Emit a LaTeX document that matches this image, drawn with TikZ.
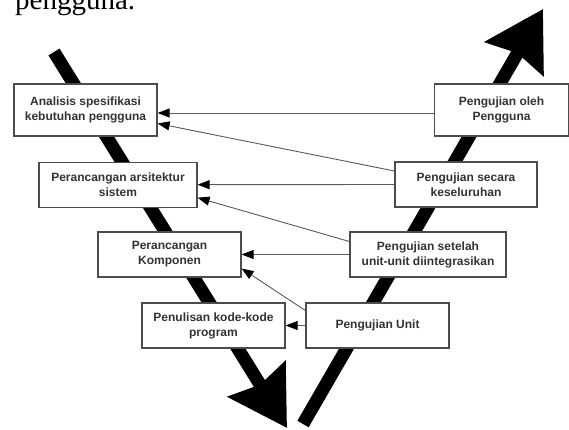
\documentclass[tikz,border=0pt]{standalone}
\usepackage{fontspec}
\setmainfont{Liberation Serif}
\newfontfamily\boxfont{Liberation Sans}
\usetikzlibrary{arrows.meta}

\begin{document}
\begin{tikzpicture}[x=1pt, y=-1pt,
        box/.style={draw=black!70, line width=1.2pt, fill=white, align=center, inner sep=0pt,
            text=black!80, font=\boxfont\bfseries\fontsize{12}{15}\selectfont},
        link/.style={draw=black!65, line width=0.9pt, -{Triangle[length=12pt, width=9pt, color=black]}},
        bigarrow/.style={line width=13pt, -{Stealth[length=57pt, width=66pt, inset=6pt]}}]
        \useasboundingbox (0,0) rectangle (569,430);
        \clip (0,0) rectangle (569,430);

        % end of the text above the picture
        \node[anchor=base west, inner sep=0pt, font=\fontsize{29}{34}\selectfont] (kalimat) at (15,9.5) {pengguna.};

        % the two big arrows of the V
        \coordinate (turunawal) at (54,52);
        \coordinate (turunujung) at (287,428);
        \coordinate (naikawal) at (303,424);
        \coordinate (naikujung) at (543,9);
        \draw[bigarrow] (turunawal) -- (turunujung);
        \draw[bigarrow] (naikawal) -- (naikujung);

        % left side
        \node[box, minimum width=143pt, minimum height=52pt] (analisis) at (85.5,110) {Analisis spesifikasi\\kebutuhan pengguna};
        \node[box, minimum width=158pt, minimum height=45pt] (arsitektur) at (118,184.7) {Perancangan arsitektur\\sistem};
        \node[box, minimum width=143pt, minimum height=45pt] (komponen) at (169.5,254.5) {Perancangan\\Komponen};
        \node[box, minimum width=143pt, minimum height=45pt] (kode) at (213.5,325.5) {Penulisan kode-kode\\program};

        % right side
        \node[box, minimum width=134pt, minimum height=52pt] (ujipengguna) at (501.5,110) {Pengujian oleh\\Pengguna};
        \node[box, minimum width=142pt, minimum height=45pt] (ujisistem) at (466,184.5) {Pengujian secara\\keseluruhan};
        \node[box, minimum width=156pt, minimum height=45pt] (ujiintegrasi) at (428,254.5) {Pengujian setelah\\unit-unit diintegrasikan};
        \node[box, minimum width=143pt, minimum height=45pt] (ujiunit) at (377.5,325.5) {Pengujian Unit};

        % links from test to design
        \draw[link] ([yshift=-3pt]ujipengguna.west) -- ([yshift=-3pt]analisis.east);
        \draw[link] ([yshift=13.5pt]ujisistem.west) -- ([yshift=-13.5pt]analisis.east);
        \draw[link] (ujisistem.west) -- (arsitektur.east);
        \draw[link] ([yshift=13pt]ujiintegrasi.west) -- ([yshift=-13pt]arsitektur.east);
        \draw[link] (ujiintegrasi.west) -- (komponen.east);
        \draw[link] ([yshift=15pt]ujiunit.west) -- ([yshift=-14pt]komponen.east);
        \draw[link] (ujiunit.west) -- (kode.east);
\end{tikzpicture}
\end{document}
